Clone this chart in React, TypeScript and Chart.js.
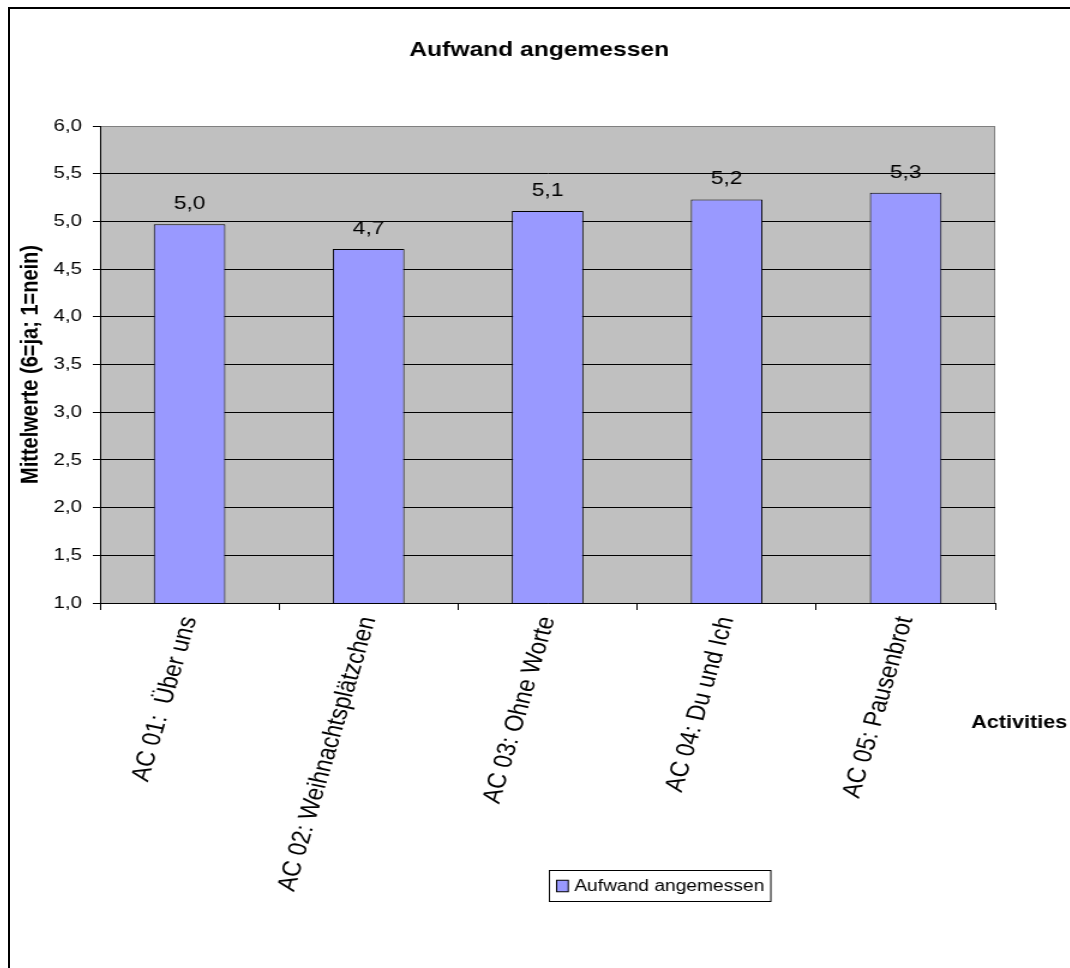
import React, { useEffect, useRef } from 'react';
import { Chart, registerables } from 'chart.js';

Chart.register(...registerables);

// ---- data ----
const categories = [
  'AC 01:  Über uns',
  'AC 02: Weihnachtsplätzchen',
  'AC 03: Ohne Worte',
  'AC 04: Du und Ich',
  'AC 05: Pausenbrot',
];
const values = [4.97, 4.71, 5.11, 5.23, 5.3];
const seriesName = 'Aufwand angemessen';
const chartTitle = 'Aufwand angemessen';
const yAxisTitle = 'Mittelwerte (6=ja; 1=nein)';
const xAxisTitle = 'Activities';
const yMin = 1;
const yMax = 6;
const yStep = 0.5;

// ---- styling ----
const FONT = "'Liberation Sans', Arial, sans-serif";
const STRETCH = 1.2;
const CW = 882;
const CH = 959;
const fmt = (v: number) => v.toFixed(1).replace('.', ',');

const plotBg = {
  id: 'plotBg',
  beforeDraw(chart: any) {
    const { ctx, chartArea: a } = chart;
    ctx.save();
    ctx.fillStyle = '#C0C0C0';
    ctx.fillRect(a.left, a.top, a.right - a.left, a.bottom - a.top);
    ctx.strokeStyle = '#808080';
    ctx.lineWidth = 1;
    ctx.beginPath();
    ctx.moveTo(a.left, a.top + 0.5);
    ctx.lineTo(a.right - 0.5, a.top + 0.5);
    ctx.lineTo(a.right - 0.5, a.bottom);
    ctx.stroke();
    ctx.restore();
  },
};

const valueLabels = {
  id: 'valueLabels',
  afterDatasetsDraw(chart: any) {
    const { ctx } = chart;
    const meta = chart.getDatasetMeta(0);
    ctx.save();
    ctx.font = `19px ${FONT}`;
    ctx.fillStyle = '#000';
    ctx.textAlign = 'center';
    ctx.textBaseline = 'alphabetic';
    meta.data.forEach((el: any, i: number) => {
      ctx.fillText(fmt(values[i]), el.x, el.y - 15);
    });
    ctx.restore();
  },
};

const extras = {
  id: 'extras',
  afterDraw(chart: any) {
    const { ctx } = chart;
    ctx.save();
    // chart title, centred on the whole canvas
    ctx.font = `bold 20.5px ${FONT}`;
    ctx.fillStyle = '#000';
    ctx.textAlign = 'center';
    ctx.textBaseline = 'middle';
    ctx.fillText(chartTitle, chart.width / 2, 41);

    // x-axis title at right
    ctx.font = `bold 18px ${FONT}`;
    ctx.textAlign = 'left';
    ctx.textBaseline = 'alphabetic';
    ctx.fillText(xAxisTitle, 801, 719);

    // legend box
    ctx.font = `16px ${FONT}`;
    const tw = ctx.measureText(seriesName).width;
    const boxL = 449;
    const boxT = 861;
    const boxH = 31;
    const swL = boxL + 6.5;
    const swW = 9.7;
    const swH = 11.5;
    const textL = swL + swW + 5;
    const boxR = textL + tw + 5;
    ctx.fillStyle = '#fff';
    ctx.fillRect(boxL, boxT, boxR - boxL, boxH);
    ctx.strokeStyle = '#000';
    ctx.lineWidth = 1;
    ctx.strokeRect(boxL + 0.5, boxT + 0.5, boxR - boxL, boxH);
    ctx.fillStyle = '#9999FF';
    const swT = boxT + (boxH - swH) / 2 + 0.5;
    ctx.fillRect(swL, swT, swW, swH);
    ctx.strokeRect(swL, swT, swW, swH);
    ctx.fillStyle = '#000';
    ctx.textBaseline = 'middle';
    ctx.fillText(seriesName, textL, boxT + boxH / 2 + 1);
    ctx.restore();
  },
};

export default function App() {
  const ref = useRef<HTMLCanvasElement | null>(null);

  useEffect(() => {
    if (!ref.current) return;
    const chart = new Chart(ref.current, {
      type: 'bar',
      data: {
        labels: categories,
        datasets: [
          {
            label: seriesName,
            data: values,
            backgroundColor: '#9999FF',
            borderColor: '#000',
            borderWidth: 1,
            barPercentage: 0.4,
            categoryPercentage: 1,
          },
        ],
      },
      options: {
        responsive: false,
        animation: false,
        events: [],
        layout: { padding: { left: 0, right: 61, top: 117, bottom: 0 } },
        plugins: {
          legend: { display: false },
          tooltip: { enabled: false },
          title: { display: false },
        },
        scales: {
          x: {
            offset: true,
            grid: {
              display: true,
              drawOnChartArea: false,
              drawTicks: true,
              tickLength: 7,
              color: '#000',
              offset: true,
            },
            border: { display: true, color: '#000', width: 1 },
            ticks: {
              color: '#000',
              font: { family: FONT, size: 22 },
              minRotation: 76,
              maxRotation: 76,
              autoSkip: false,
              padding: 4,
            },
            afterFit: (s: any) => {
              s.height = CH - 594;
            },
          },
          y: {
            min: yMin,
            max: yMax,
            ticks: {
              stepSize: yStep,
              color: '#000',
              font: { family: FONT, size: 17 },
              padding: 9,
              callback: (v: any) => fmt(Number(v)),
            },
            grid: {
              color: (c: any) => (c.tick && c.tick.value === yMax ? '#808080' : '#000'),
              tickColor: '#000',
              tickLength: 6,
              lineWidth: 1,
            },
            border: { display: true, color: '#000', width: 1 },
            title: {
              display: true,
              text: yAxisTitle,
              color: '#000',
              font: { family: FONT, size: 20, weight: 'bold', lineHeight: 1.2 },
              padding: { top: 5, bottom: 0 },
            },
            afterFit: (s: any) => {
              s.width = 75;
            },
          },
        },
      },
      plugins: [plotBg, valueLabels, extras],
    } as any);
    return () => chart.destroy();
  }, []);

  return (
    <div
      style={{
        position: 'fixed',
        left: 0,
        top: 0,
        width: 1070,
        height: 968,
        overflow: 'hidden',
        background: '#fff',
      }}
    >
      <div
        style={{
          position: 'absolute',
          left: 8,
          top: 7,
          width: 1200,
          height: 1100,
          border: '2px solid #000',
          boxSizing: 'border-box',
          background: '#fff',
        }}
      />
      <div
        style={{
          position: 'absolute',
          left: 10,
          top: 9,
          transform: `scaleX(${STRETCH})`,
          transformOrigin: '0 0',
        }}
      >
        <canvas ref={ref} width={CW} height={CH} style={{ display: 'block', width: CW, height: CH }} />
      </div>
    </div>
  );
}
